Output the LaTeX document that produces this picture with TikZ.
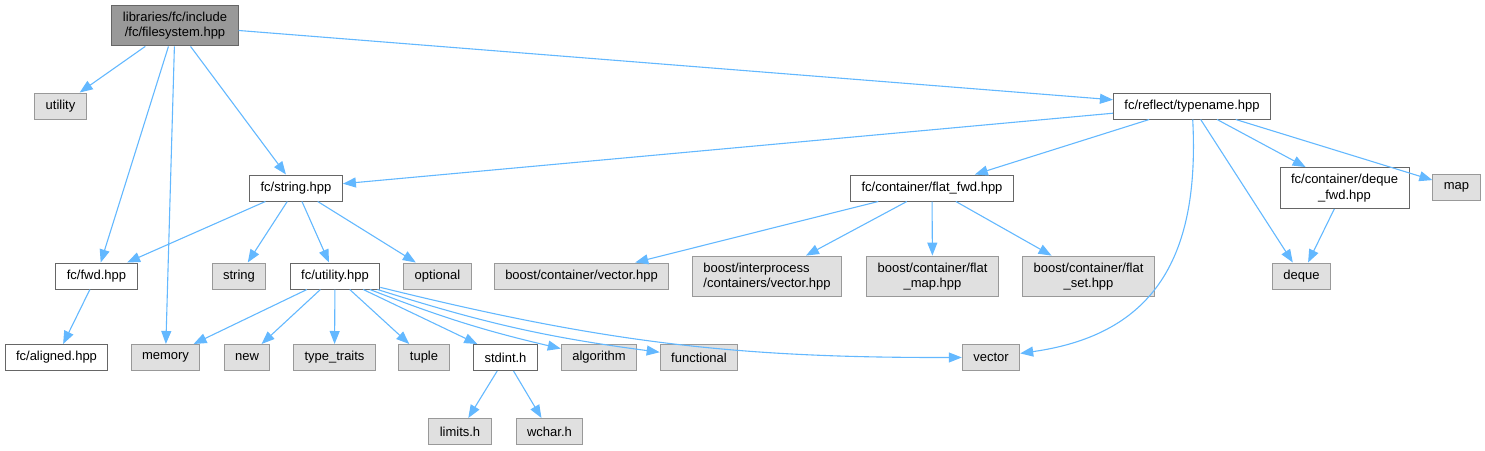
\documentclass[tikz,border=0pt]{standalone}
\usepackage{fontspec}
\setmainfont{Liberation Sans}
\usetikzlibrary{arrows.meta}
\definecolor{edgeblue}{HTML}{63B8FF}
\definecolor{sysfill}{HTML}{E0E0E0}
\definecolor{sysline}{HTML}{999999}
\definecolor{mainfill}{HTML}{999999}
\definecolor{hdrline}{HTML}{666666}

\begin{document}
\begin{tikzpicture}[x=1pt,y=1pt,
  every node/.style={font=\fontsize{13}{15.3}\selectfont,inner xsep=11pt,inner ysep=6.7pt,
    minimum height=26pt,line width=1pt,align=center},
  hdr/.style={draw=hdrline,fill=white},
  top/.style={draw=hdrline,fill=mainfill},
  sys/.style={draw=sysline,fill=sysfill},
  edge/.style={draw=edgeblue,line width=1.1pt,-{Triangle[length=13pt,width=10pt]}}]

\useasboundingbox (0,0) rectangle (1485,-450);

% header files and system headers
\node[top] (fs) at (175,-25.5) {libraries/fc/include\\/fc/filesystem.hpp};
\node[sys] (utility) at (60.5,-106) {utility};
\node[hdr] (typename) at (1192,-106) {fc/reflect/typename.hpp};

\node[hdr] (fcstring) at (296,-188) {fc/string.hpp};
\node[hdr] (flatfwd) at (932,-188) {fc/container/flat\_fwd.hpp};
\node[hdr] (dequefwd) at (1344.5,-188) {fc/container/deque\\\_fwd.hpp};
\node[sys] (map) at (1456.5,-187.5) {map};

\node[hdr] (fwd) at (96.5,-276) {fc/fwd.hpp};
\node[sys] (string) at (239,-276) {string};
\node[hdr] (fcutility) at (335,-276) {fc/utility.hpp};
\node[sys] (optional) at (437.5,-276) {optional};
\node[sys] (bvector) at (581.5,-276) {boost/container/vector.hpp};
\node[sys,align=left] (ivector) at (767,-276.5) {boost/interprocess\\/containers/vector.hpp};
\node[sys] (flatmap) at (932.5,-276.5) {boost/container/flat\\\_map.hpp};
\node[sys] (flatset) at (1088.5,-276.5) {boost/container/flat\\\_set.hpp};
\node[sys] (deque) at (1301.5,-276) {deque};

\node[hdr] (aligned) at (56.5,-357.5) {fc/aligned.hpp};
\node[sys] (memory) at (165.5,-357.5) {memory};
\node[sys] (new) at (247,-357.5) {new};
\node[sys] (typetraits) at (334.5,-357.5) {type\_traits};
\node[sys] (tuple) at (424,-357.5) {tuple};
\node[hdr] (stdint) at (505.5,-357.5) {stdint.h};
\node[sys] (algorithm) at (599,-357.5) {algorithm};
\node[sys] (functional) at (699,-357.5) {functional};
\node[sys] (vector) at (991,-357.5) {vector};

\node[sys] (limits) at (460,-431.5) {limits.h};
\node[sys] (wchar) at (549.5,-431.5) {wchar.h};

% include edges
\foreach \a/\b in {fs/utility,fs/fwd,fs/memory,fs/fcstring,fs/typename,
    typename/fcstring,typename/flatfwd,typename/deque,typename/dequefwd,typename/map,
    fcstring/fwd,fcstring/string,fcstring/fcutility,fcstring/optional,
    fwd/aligned,dequefwd/deque,
    flatfwd/bvector,flatfwd/ivector,flatfwd/flatmap,flatfwd/flatset,
    fcutility/memory,fcutility/new,fcutility/typetraits,fcutility/tuple,fcutility/stdint,
    stdint/limits,stdint/wchar}
  \draw[edge] (\a) -- (\b);

\draw[edge] (fcutility) to[bend right=4] (algorithm);
\draw[edge] (fcutility) to[bend right=5] (functional);
\draw[edge] (fcutility) to[bend right=7] (vector);
\draw[edge] (typename) to[out=-87,in=8,looseness=1.2] (vector);

\end{tikzpicture}
\end{document}
